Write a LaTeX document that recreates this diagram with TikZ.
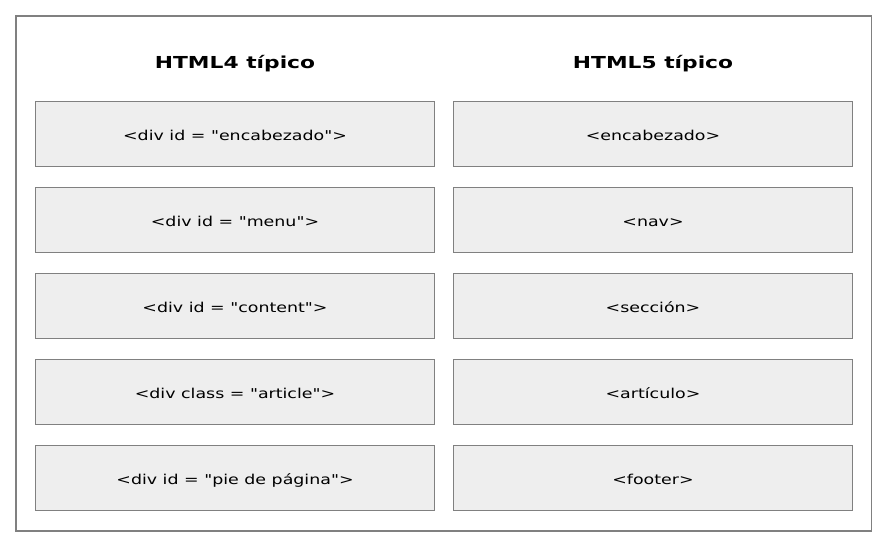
\documentclass[tikz,border=0pt]{standalone}
\usepackage{fontspec}
\setmainfont{DejaVu Sans}[Ligatures=TeXOff]
\newfontfamily\cajafont{DejaVu Sans}[FakeStretch=1.28, Ligatures=TeXOff]
\newfontfamily\titfont{DejaVu Sans Bold}[FakeStretch=1.32, Ligatures=TeXOff]
\usetikzlibrary{positioning}
\definecolor{borde}{HTML}{808080}
\definecolor{relleno}{HTML}{EEEEEE}

\begin{document}
\begin{tikzpicture}[
        x=1pt, y=-1pt,
        caja/.style={draw=borde, fill=relleno, line width=1.2pt,
                     minimum width=399pt, minimum height=65pt,
                     inner sep=0pt, text height=12pt, text depth=0pt,
                     font=\cajafont\fontsize{13.6}{16}\selectfont},
        titulo/.style={anchor=base, font=\titfont\fontsize{16.5}{20}\selectfont}
    ]
        \useasboundingbox (0,0) rectangle (889,542);
        % marco exterior
        \draw[borde, line width=1.2pt] (16,16) rectangle (871.5,531);
        % columna HTML4
        \node[titulo] (t4) at (235,68) {HTML4 típico};
        \node[caja] (enc4) at (235,134) {<div id = "encabezado">};
        \node[caja] (menu4) at (235,220) {<div id = "menu">};
        \node[caja] (cont4) at (235,306) {<div id = "content">};
        \node[caja] (art4) at (235,392) {<div class = "article">};
        \node[caja] (pie4) at (235,478) {<div id = "pie de página">};
        % columna HTML5
        \node[titulo] (t5) at (653,68) {HTML5 típico};
        \node[caja] (enc5) at (653,134) {<encabezado>};
        \node[caja] (nav5) at (653,220) {<nav>};
        \node[caja] (sec5) at (653,306) {<sección>};
        \node[caja] (art5) at (653,392) {<artículo>};
        \node[caja] (pie5) at (653,478) {<footer>};
    \end{tikzpicture}
\end{document}
